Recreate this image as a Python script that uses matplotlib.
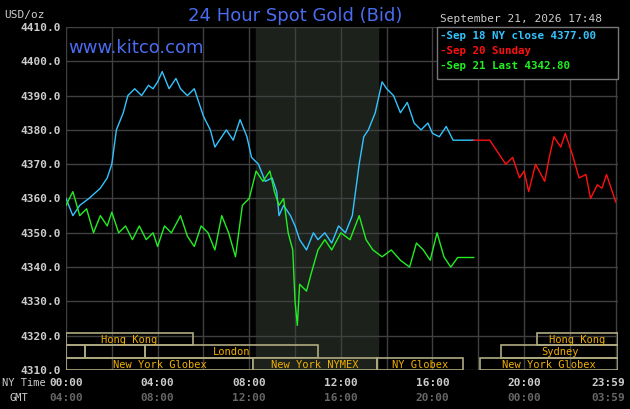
import matplotlib
matplotlib.use("Agg")
import matplotlib.pyplot as plt
from matplotlib.patches import Rectangle

# hours since 00:00 NY time, bid price
blue_h = [0, 0.3, 0.6, 1.0, 1.5, 1.8, 2.0, 2.2, 2.5, 2.7, 3.0, 3.3, 3.6, 3.8, 4.0, 4.2, 4.5, 4.8,
          5.0, 5.3, 5.6, 5.8, 6.0, 6.3, 6.5, 6.8, 7.0, 7.3, 7.6, 7.9, 8.1, 8.4, 8.7, 9.0, 9.2, 9.3,
          9.5, 9.8, 10.0, 10.2, 10.5, 10.8, 11.0, 11.3, 11.6, 11.9, 12.2, 12.5, 12.8, 13.0, 13.2,
          13.5, 13.8, 14.0, 14.3, 14.6, 14.9, 15.2, 15.5, 15.8, 16.0, 16.3, 16.6, 16.9, 17.8]
blue_v = [4360, 4355, 4358, 4360, 4363, 4366, 4370, 4380, 4385, 4390, 4392, 4390, 4393, 4392,
          4394, 4397, 4392, 4395, 4392, 4390, 4392, 4388, 4384, 4380, 4375, 4378, 4380, 4377,
          4383, 4378, 4372, 4370, 4365, 4366, 4362, 4355, 4358, 4355, 4352, 4348, 4345, 4350,
          4348, 4350, 4347, 4352, 4350, 4355, 4370, 4378, 4380, 4385, 4394, 4392, 4390, 4385,
          4388, 4382, 4380, 4382, 4379, 4378, 4381, 4377, 4377]

green_h = [0, 0.3, 0.6, 0.9, 1.2, 1.5, 1.8, 2.0, 2.3, 2.6, 2.9, 3.2, 3.5, 3.8, 4.0, 4.3, 4.6,
           5.0, 5.3, 5.6, 5.9, 6.2, 6.5, 6.8, 7.1, 7.4, 7.7, 8.0, 8.3, 8.6, 8.9, 9.1, 9.3, 9.5,
           9.7, 9.9, 10.0, 10.1, 10.2, 10.5, 10.7, 11.0, 11.3, 11.6, 12.0, 12.4, 12.8, 13.1,
           13.4, 13.8, 14.2, 14.6, 15.0, 15.3, 15.6, 15.9, 16.2, 16.5, 16.8, 17.1, 17.8]
green_v = [4358, 4362, 4355, 4357, 4350, 4355, 4352, 4356, 4350, 4352, 4348, 4352, 4348, 4350,
           4346, 4352, 4350, 4355, 4349, 4346, 4352, 4350, 4345, 4355, 4350, 4343, 4358, 4360,
           4368, 4365, 4368, 4362, 4358, 4360, 4350, 4345, 4330, 4323, 4335, 4333, 4338, 4345,
           4348, 4345, 4350, 4348, 4355, 4348, 4345, 4343, 4345, 4342, 4340, 4347, 4345, 4342,
           4350, 4343, 4340, 4342.8, 4342.8]

red_h = [17.8, 18.5, 18.8, 19.2, 19.5, 19.8, 20.0, 20.2, 20.5, 20.9, 21.1, 21.3, 21.6, 21.8,
         22.1, 22.4, 22.7, 22.9, 23.2, 23.4, 23.6, 24.0]
red_v = [4377, 4377, 4374, 4370, 4372, 4366, 4368, 4362, 4370, 4365, 4372, 4378, 4375, 4379,
         4373, 4366, 4367, 4360, 4364, 4363, 4367, 4359]

y_ticks = [4310, 4320, 4330, 4340, 4350, 4360, 4370, 4380, 4390, 4400, 4410]
x_ticks = [0, 4, 8, 12, 16, 20, 23.98]
ny_labels = ["00:00", "04:00", "08:00", "12:00", "16:00", "20:00", "23:59"]
gmt_labels = ["04:00", "08:00", "12:00", "16:00", "20:00", "00:00", "03:59"]

# market sessions: (row, start h, end h, label)
sessions = [(2, 0, 5.54, "Hong Kong"), (2, 20.55, 24.1, "Hong Kong"),
            (1, 0, 0.83, ""), (1, 0.83, 3.45, ""), (1, 3.45, 11.0, "London"),
            (1, 19.0, 24.1, "Sydney"),
            (0, 0, 8.16, "New York Globex"), (0, 8.16, 13.57, "New York NYMEX"),
            (0, 13.57, 17.32, "NY Globex"), (0, 18.06, 24.1, "New York Globex")]

MONO = "DejaVu Sans Mono"
GOLD = "#f0b000"
EDGE = "#b0aa80"

fig = plt.figure(figsize=(6.3, 4.1), dpi=100, facecolor="black")
ax = fig.add_axes([66 / 630, 39 / 410, 552 / 630, 343 / 410], facecolor="black")
ax.set_xlim(0, 24.1)
ax.set_ylim(4310, 4410)
for s in ax.spines.values():
    s.set_visible(False)
for h in range(0, 25, 2):
    ax.axvline(h, color="#404040", lw=1, zorder=1)
for y in y_ticks:
    ax.axhline(y, color="#404040", lw=1, zorder=1)
ax.axvspan(8.3, 13.6, color="#1c211c", zorder=0)

ax.plot(blue_h, blue_v, color="#33c4ff", lw=1, zorder=3)
ax.plot(green_h, green_v, color="#22ee22", lw=1, zorder=3)
ax.plot(red_h, red_v, color="#ff1010", lw=1, zorder=3)

row_h = 3.6
for row, a, b, lab in sessions:
    y0 = 4310 + row * row_h
    ax.add_patch(Rectangle((a, y0), b - a, row_h, fill=(lab == "New York NYMEX"),
                           facecolor="#1c211c", edgecolor=EDGE, lw=1.2, zorder=4))
    if lab:
        ax.text((a + b) / 2, y0 + row_h / 2, lab, color=GOLD, fontsize=7.5, family=MONO,
                ha="center", va="center", zorder=5)

ax.set_xticks([])
ax.set_yticks([])
for y in y_ticks:
    ax.text(-0.2, y, f"{y:.1f}", color="#cccccc", fontsize=8, family=MONO, fontweight="bold",
            ha="right", va="center", clip_on=False)
for i, (x, a, b) in enumerate(zip(x_ticks, ny_labels, gmt_labels)):
    last = i == len(x_ticks) - 1
    xx, ha = (24.4, "right") if last else (x, "center")
    ax.text(xx, 4306.5, a, color="#cccccc", fontsize=8, family=MONO, fontweight="bold",
            ha=ha, va="center", clip_on=False)
    ax.text(xx, 4302.0, b, color="#666666", fontsize=8, family=MONO, fontweight="bold",
            ha=ha, va="center", clip_on=False)
fig.text(2 / 630, 1 - 383 / 410, "NY Time", color="#cccccc", fontsize=7.5, family=MONO, va="center")
fig.text(10 / 630, 1 - 398 / 410, "GMT", color="#cccccc", fontsize=7.5, family=MONO, va="center")

fig.text(4 / 630, 1 - 15 / 410, "USD/oz", color="#cccccc", fontsize=8, family=MONO, va="center")
fig.text(295 / 630, 1 - 16 / 410, "24 Hour Spot Gold (Bid)", color="#4a6cf0", fontsize=13,
         ha="center", va="center")
fig.text(68 / 630, 1 - 48 / 410, "www.kitco.com", color="#4a6cf0", fontsize=13, va="center")
fig.text(440 / 630, 1 - 19 / 410, "September 21, 2026 17:48", color="#cccccc", fontsize=8,
         family=MONO, va="center")

lg = Rectangle((437 / 630, 1 - 80 / 410), 181 / 630, 52 / 410, transform=fig.transFigure,
               facecolor="black", edgecolor="#777777", lw=1, zorder=6)
fig.add_artist(lg)
for i, (txt, col) in enumerate([("-Sep 18 NY close 4377.00", "#33c4ff"),
                                 ("-Sep 20 Sunday", "#ff1010"),
                                 ("-Sep 21 Last 4342.80", "#22ee22")]):
    fig.text(440 / 630, 1 - (36 + 15 * i) / 410, txt, color=col, fontsize=7.8, family=MONO,
             fontweight="bold", va="center", zorder=7)

fig.savefig("out.png", dpi=100, facecolor="black")
